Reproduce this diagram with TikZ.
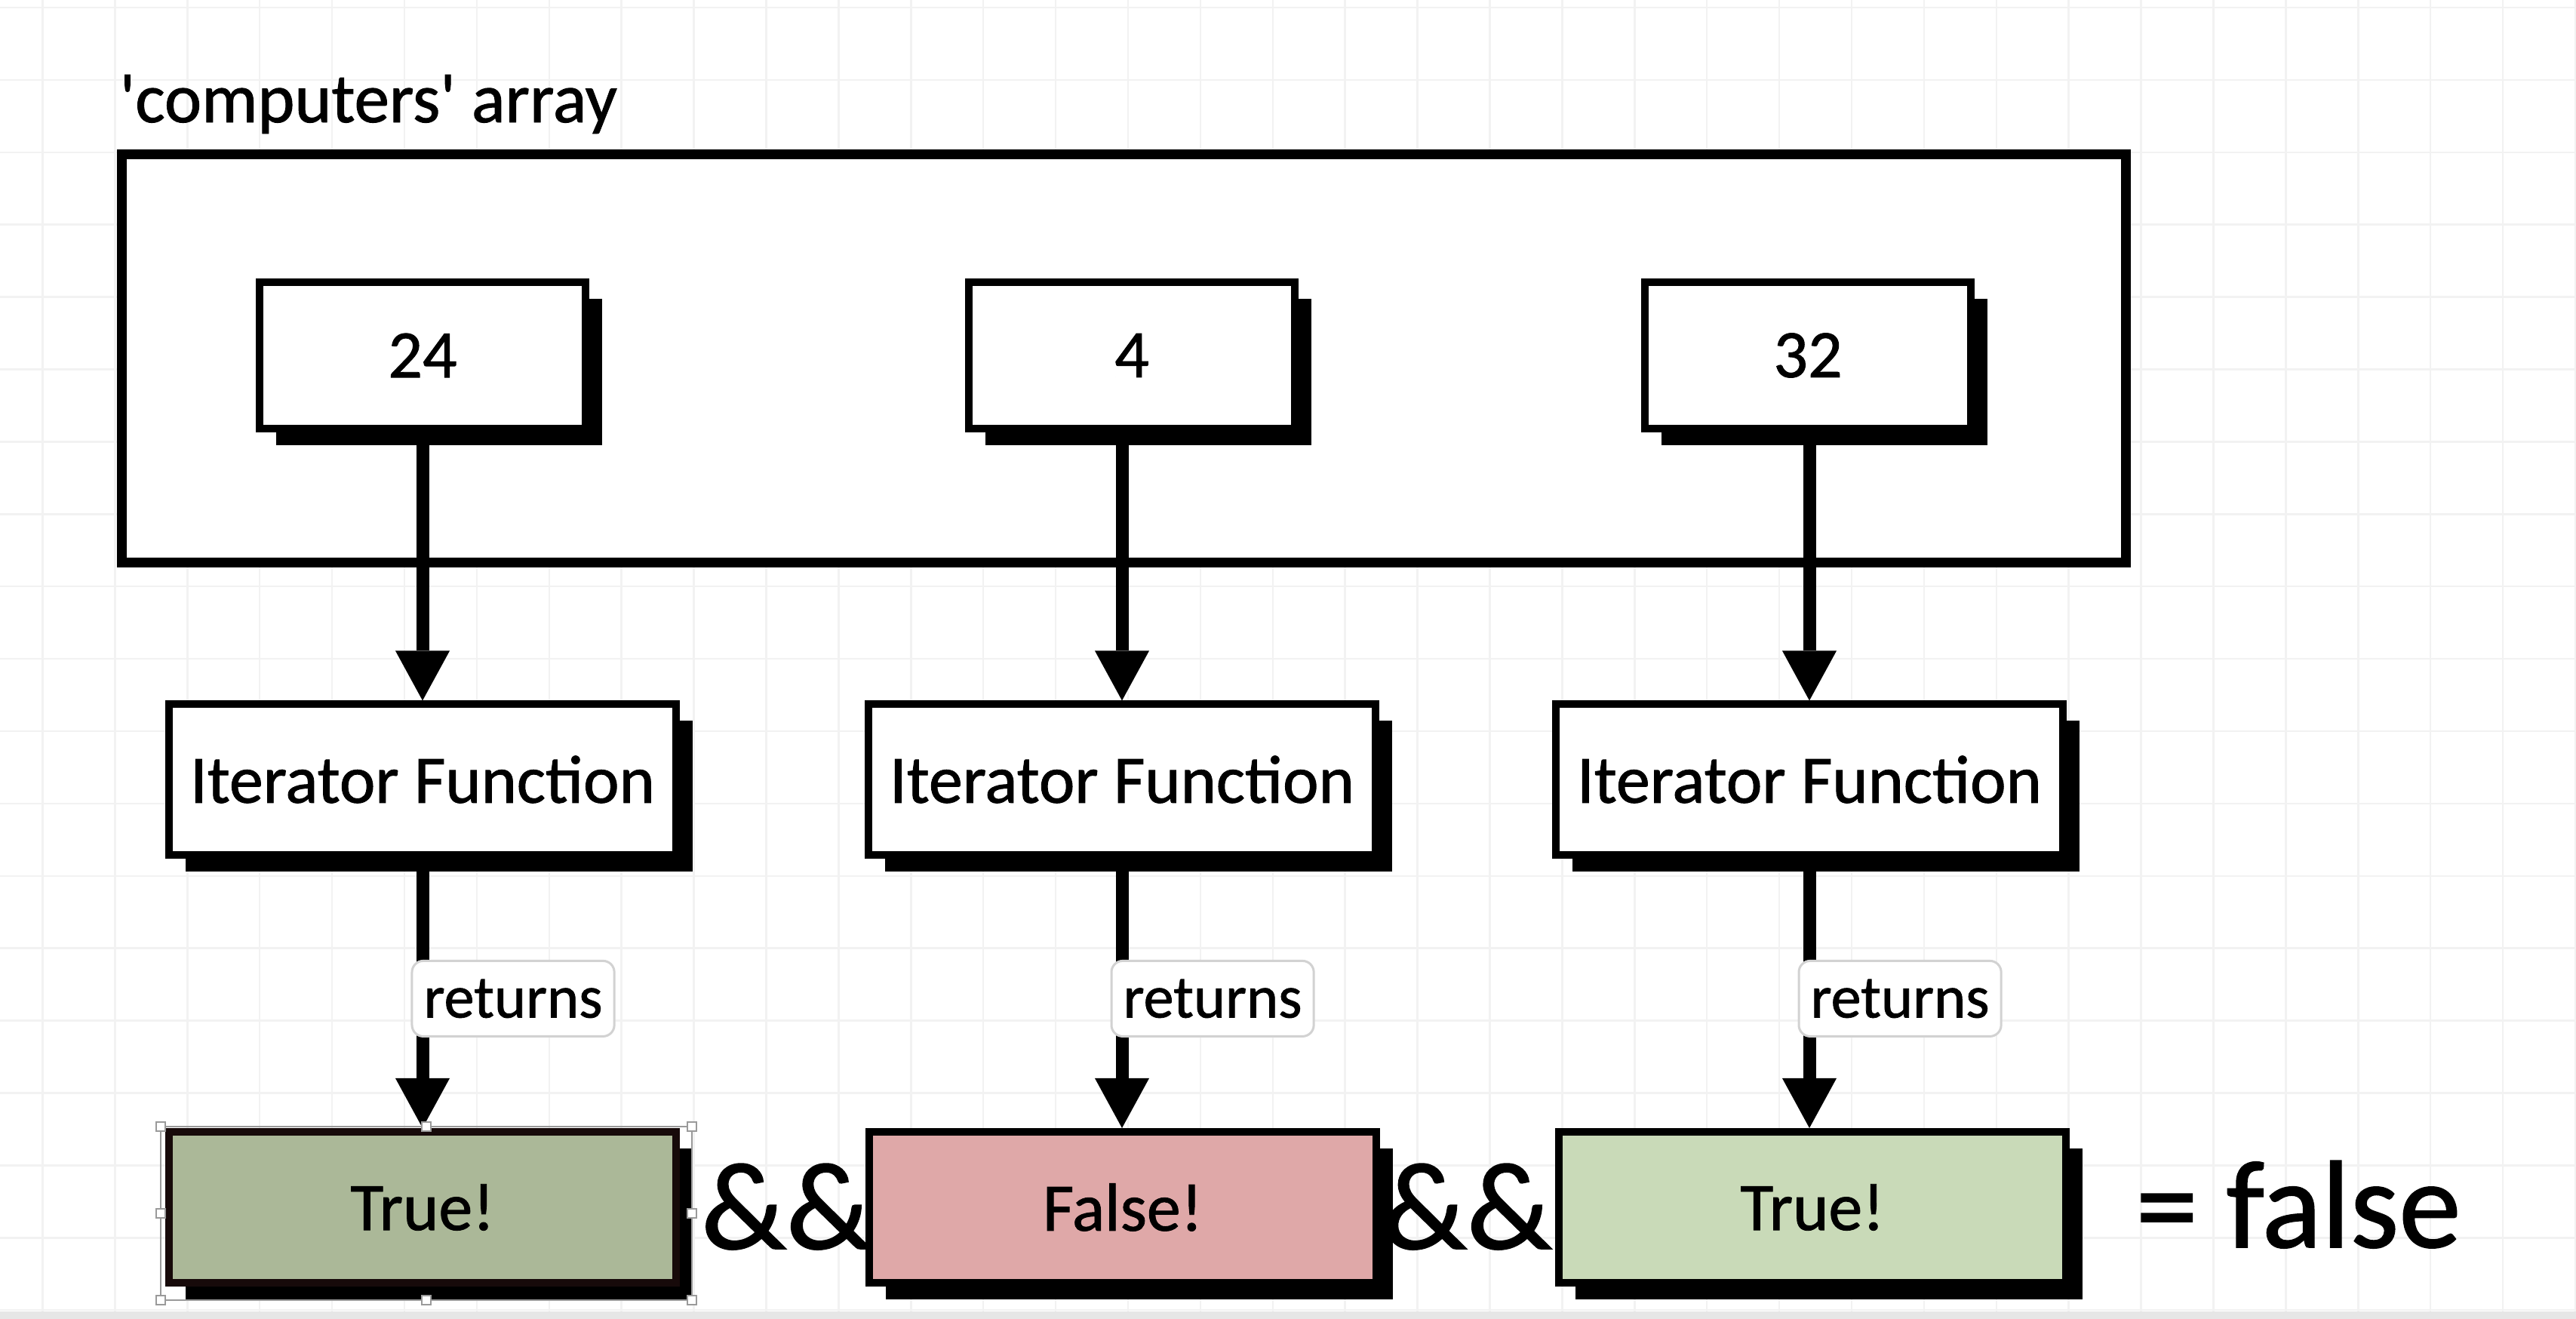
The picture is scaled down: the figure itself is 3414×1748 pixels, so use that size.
\documentclass[tikz,border=0pt]{standalone}
\usepackage{fontspec}
\setmainfont{Carlito}[FakeBold=1.0]
\usetikzlibrary{arrows.meta,shadows}

\definecolor{gridgray}{HTML}{F2F2F2}
\definecolor{bandgray}{HTML}{E6E6E6}
\definecolor{labelgray}{HTML}{D2D2D2}
\definecolor{sage}{HTML}{ABB898}
\definecolor{rose}{HTML}{DFA8A8}
\definecolor{mint}{HTML}{C9DAB8}
\definecolor{darkedge}{HTML}{170A0A}
\definecolor{handlegray}{HTML}{9A9A9A}

\newcommand{\boxtext}{\fontsize{25.6pt}{30pt}\selectfont}
\newcommand{\labeltext}{\fontsize{22.8pt}{27pt}\selectfont}
\newcommand{\titletext}{\fontsize{26.5pt}{31pt}\selectfont}
\newcommand{\bigsym}{\fontsize{47pt}{56pt}\selectfont}

\begin{document}
\begin{tikzpicture}[x=0.01cm, y=-0.01cm,
  gridline/.style={draw=gridgray, line width=0.025cm},
  shadowbox/.style={draw=black, line width=0.1cm, fill=white, inner sep=0pt,
    general shadow={fill=black, shadow xshift=0.22cm, shadow yshift=-0.22cm}},
  valuebox/.style={shadowbox, minimum width=4.32cm, minimum height=1.94cm, font=\boxtext},
  iterbox/.style={shadowbox, minimum width=6.72cm, minimum height=1.99cm, font=\boxtext},
  resultbox/.style={shadowbox, minimum width=6.72cm, minimum height=2.0cm, font=\boxtext},
  arraybox/.style={draw=black, line width=0.13cm, fill=white,
    minimum width=26.55cm, minimum height=5.4cm, inner sep=0pt},
  flow/.style={draw=black, line width=0.17cm,
    -{Triangle[width=0.72cm, length=0.66cm, line width=0pt]}},
  retlabel/.style={draw=labelgray, line width=0.03cm, rounded corners=0.15cm,
    fill=white, minimum width=2.68cm, minimum height=1.0cm, inner sep=0pt,
    font=\labeltext},
  bigtext/.style={font=\bigsym, inner sep=0pt},
  handle/.style={draw=handlegray, fill=white, line width=0.02cm}
]
% canvas and page frame
\fill[white] (0,0) rectangle (3414,1748);
\useasboundingbox (0,0) rectangle (3414,1748);

% background grid
\foreach \i in {0,...,35} {
  \draw[gridline] ({56.5+95.9*\i},0) -- ({56.5+95.9*\i},1738);
}
\foreach \j in {0,...,18} {
  \draw[gridline] (0,{10+95.9*\j}) -- (3414,{10+95.9*\j});
}
\fill[bandgray] (0,1738) rectangle (3414,1748);

% the array and its elements
\node[anchor=base west, inner sep=0pt, font=\titletext] (title) at (158,162)
  {\textquotesingle computers\textquotesingle{} array};
\node[arraybox] (arr) at (1489.5,475) {};

\node[valuebox] (v1) at (560,471) {24};
\node[valuebox] (v2) at (1500,471) {4};
\node[valuebox] (v3) at (2396,471) {32};

% iterator calls
\node[iterbox] (f1) at (560,1033) {Iterator Function};
\node[iterbox] (f2) at (1487,1033) {Iterator Function};
\node[iterbox] (f3) at (2398,1033) {Iterator Function};

% results
\node[resultbox, fill=sage, draw=darkedge] (r1) at (560,1600) {True!};
\node[resultbox, fill=rose] (r2) at (1488,1600) {False!};
\node[resultbox, fill=mint] (r3) at (2402,1600) {True!};

% element -> iterator
\draw[flow] (v1.south -| f1.north) -- (f1.north);
\draw[flow] (v2.south -| f2.north) -- (f2.north);
\draw[flow] (v3.south -| f3.north) -- (f3.north);

% iterator -> result
\draw[flow] (f1.south) -- node[retlabel, pos=0.52, xshift=1.2cm] (l1) {returns} (f1.south |- r1.north);
\draw[flow] (f2.south) -- node[retlabel, pos=0.52, xshift=1.2cm] (l2) {returns} (f2.south |- r2.north);
\draw[flow] (f3.south) -- node[retlabel, pos=0.52, xshift=1.2cm] (l3) {returns} (f3.south |- r3.north);

% combined result
\node[bigtext, anchor=base] (and1) at (1042,1655) {\&\&};
\node[bigtext, anchor=base] (and2) at (1944,1655) {\&\&};
\node[bigtext, anchor=base west] (eq) at (2830,1653) {= false};

% selection frame around the first result
\draw[draw=handlegray, line width=0.02cm] (213,1493) rectangle (917,1723);
\foreach \hx/\hy in {213/1493, 565/1493, 917/1493, 213/1608, 917/1608,
                     213/1723, 565/1723, 917/1723} {
  \filldraw[handle] (\hx-6,\hy-6) rectangle (\hx+6,\hy+6);
}
\end{tikzpicture}
\end{document}
